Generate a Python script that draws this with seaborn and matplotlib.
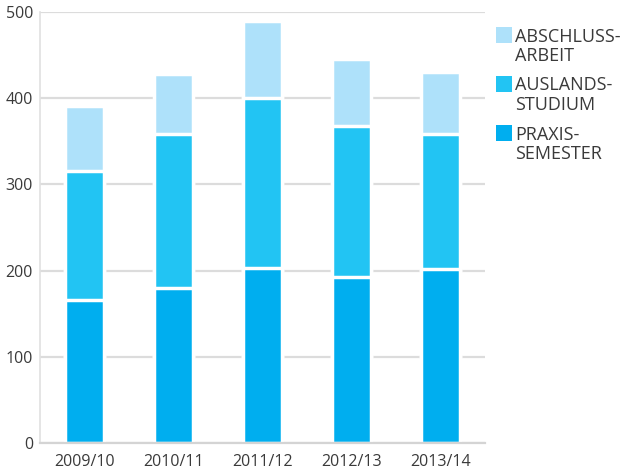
import numpy as np
import pandas as pd
import seaborn as sns
import matplotlib.pyplot as plt
from matplotlib.patches import Rectangle

# Values
seasons = ["2009/10", "2010/11", "2011/12", "2012/13", "2013/14"]
praxis = [166, 180, 203, 192, 202]
ausland = [150, 179, 197, 176, 156]
abschluss = [75, 69, 89, 78, 72]

legend_labels = ["ABSCHLUSS-\nARBEIT", "AUSLANDS-\nSTUDIUM", "PRAXIS-\nSEMESTER"]
colors = ["#aee1fa", "#22c4f3", "#00aeef"]

sns.set_theme(style="white")
plt.rcParams["font.family"] = ["Open Sans", "DejaVu Sans"]

df = pd.DataFrame({"season": seasons, "praxis": praxis,
                   "ausland": ausland, "abschluss": abschluss})
df["cum2"] = df["praxis"] + df["ausland"]
df["cum3"] = df["cum2"] + df["abschluss"]

fig = plt.figure(figsize=(6.29, 4.71), dpi=100)
ax = fig.add_axes([40 / 629, 28 / 471, 445 / 629, 431 / 471])

# stacked bars drawn as overlapping cumulative totals, tallest first
for col, c in zip(["cum3", "cum2", "praxis"], colors):
    sns.barplot(data=df, x="season", y=col, color=c, saturation=1,
                width=0.44, edgecolor="white", linewidth=2.5, ax=ax)

ax.set_xlim(-0.5, 4.5)
ax.set_ylim(0, 500)
ax.set_yticks([0, 100, 200, 300, 400, 500])
ax.set_axisbelow(True)
ax.yaxis.grid(True, color="#dcdcdc", linewidth=1.6)
ax.xaxis.grid(False)
ax.set_xlabel("")
ax.set_ylabel("")
for s in ["top", "right"]:
    ax.spines[s].set_visible(False)
ax.spines["left"].set_color("#e0e0e0")
ax.spines["left"].set_linewidth(1.2)
ax.spines["bottom"].set_color("#d4d4d4")
ax.spines["bottom"].set_linewidth(1.6)
ax.tick_params(axis="both", length=0, labelsize=11.5, colors="#3a3a3a")
ax.tick_params(axis="y", pad=5)
ax.tick_params(axis="x", pad=8)

# legend: square aligned with first line of each two-line label
W, H = 629, 471
for i, (lab, c) in enumerate(zip(legend_labels, colors)):
    top = 27 + 49 * i
    fig.patches.append(Rectangle((496 / W, 1 - (top + 16) / H), 16 / W, 16 / H,
                                 transform=fig.transFigure, facecolor=c,
                                 edgecolor="none"))
    fig.text(515 / W, 1 - (top + 0.5) / H, lab, ha="left", va="top",
             fontsize=13, color="#3a3a3a", linespacing=1.1)

fig.savefig("out.png", dpi=100)
